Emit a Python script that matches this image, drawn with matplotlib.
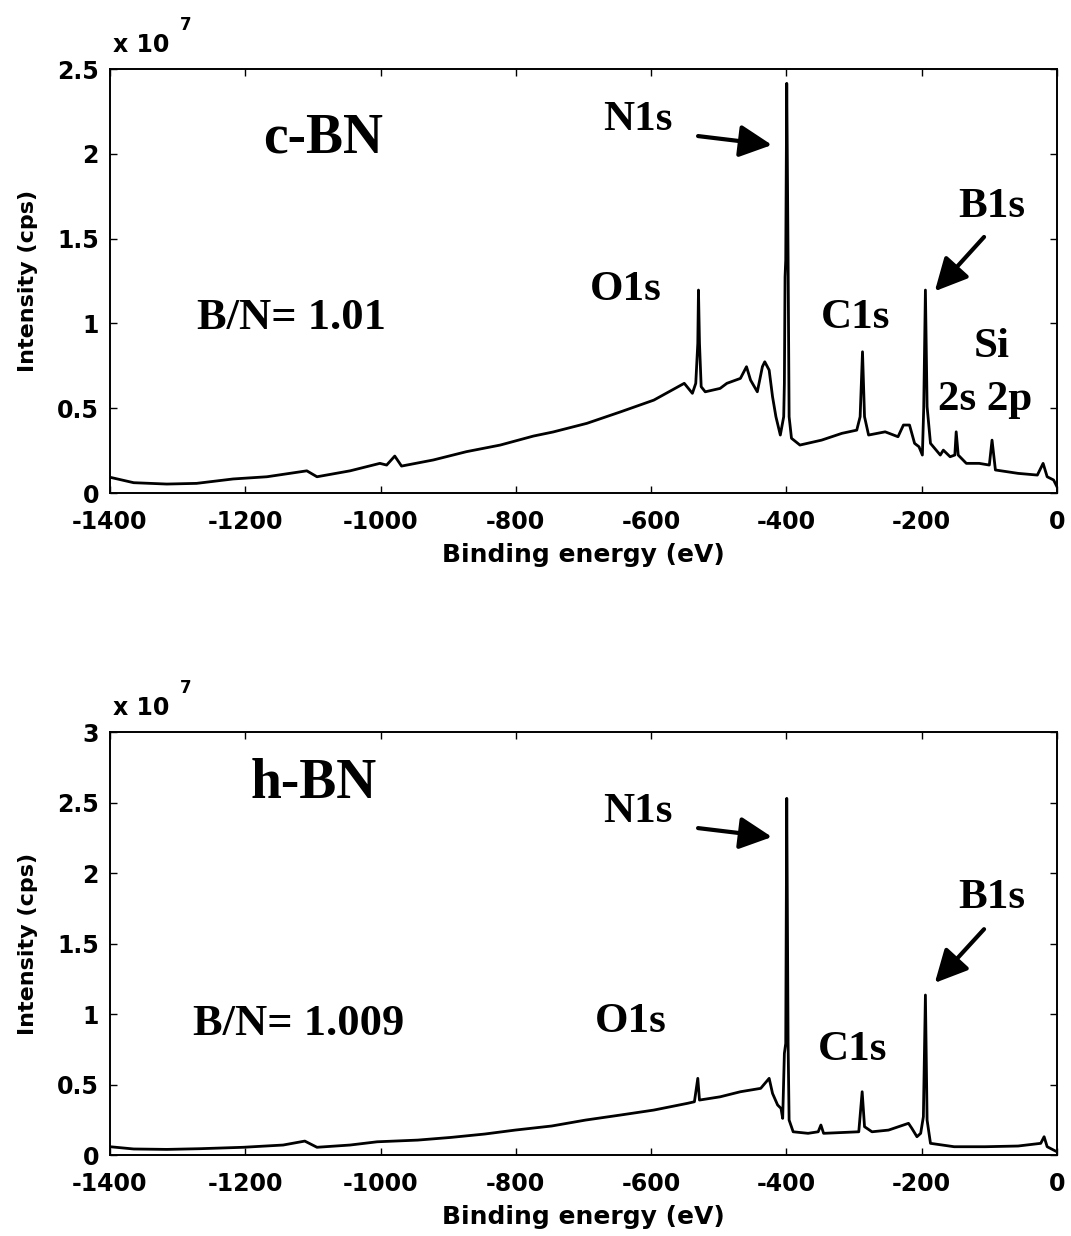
import numpy as np
import matplotlib
matplotlib.use("Agg")
import matplotlib.pyplot as plt
from matplotlib.ticker import FuncFormatter

plt.rcParams["axes.unicode_minus"] = False

# -----------------------------
# XPS survey spectra (intensity in units of 1e7 cps)
# -----------------------------
cbn_energy = [-1400, -1365, -1316, -1272, -1218, -1168, -1109, -1094, -1045, -1001,
              -991, -979, -969, -922, -873, -823, -774, -745, -695, -645,
              -596, -551, -539, -534, -531, -530, -528.5, -526, -520, -498,
              -488, -468, -459, -453, -443, -435.5, -432, -425.5, -420.5, -415.5,
              -409, -404, -403, -402, -401, -399.5, -397.5, -396, -392.5, -380,
              -348, -318, -296, -291, -287.5, -284.5, -278.5, -254, -235, -227,
              -218, -210.5, -204, -199, -197, -194.5, -192, -187, -172.5, -168,
              -158, -151, -149, -146, -134, -115, -100, -96, -91, -57.5,
              -29, -20.5, -14.5, -5, 0]
cbn_counts = [0.093, 0.061, 0.053, 0.057, 0.083, 0.096, 0.131, 0.096, 0.131, 0.175,
              0.165, 0.218, 0.159, 0.195, 0.244, 0.283, 0.336, 0.360, 0.411, 0.479,
              0.548, 0.647, 0.588, 0.647, 0.883, 1.197, 0.883, 0.627, 0.597, 0.617,
              0.647, 0.676, 0.745, 0.666, 0.597, 0.745, 0.774, 0.725, 0.568, 0.450,
              0.342, 0.450, 0.647, 1.275, 1.374, 2.416, 1.374, 0.450, 0.323, 0.283,
              0.312, 0.352, 0.371, 0.450, 0.833, 0.450, 0.342, 0.361, 0.332, 0.401,
              0.401, 0.293, 0.273, 0.224, 0.499, 1.197, 0.509, 0.293, 0.224, 0.253,
              0.214, 0.224, 0.361, 0.224, 0.175, 0.175, 0.165, 0.312, 0.136, 0.116,
              0.106, 0.175, 0.096, 0.077, 0.037]

hbn_energy = [-1400, -1365, -1316, -1267, -1203, -1144, -1112, -1094, -1045, -1005,
              -945, -896, -846, -801, -747, -697, -645, -596, -546, -536,
              -531, -528.5, -498, -468, -438, -425.5, -420.5, -413, -408, -405.5,
              -403, -401, -399.5, -397.5, -396, -390, -368, -353, -349, -345,
              -293, -288, -284.5, -273.5, -249, -219.5, -214.5, -207, -201.5, -197.5,
              -194.5, -192, -187, -152, -106, -57.5, -24, -19, -14.5, 0]
hbn_counts = [0.059, 0.043, 0.040, 0.045, 0.055, 0.071, 0.099, 0.055, 0.071, 0.094,
              0.106, 0.125, 0.149, 0.177, 0.206, 0.248, 0.284, 0.319, 0.367, 0.378,
              0.544, 0.390, 0.413, 0.449, 0.473, 0.544, 0.437, 0.355, 0.331, 0.260,
              0.721, 0.792, 2.530, 0.792, 0.248, 0.165, 0.154, 0.165, 0.213, 0.154,
              0.165, 0.449, 0.201, 0.165, 0.177, 0.225, 0.189, 0.130, 0.154, 0.272,
              1.135, 0.248, 0.083, 0.059, 0.059, 0.064, 0.083, 0.130, 0.059, 0.023]

x_ticks = [-1400, -1200, -1000, -800, -600, -400, -200, 0]
cbn_yticks = [0, 0.5, 1, 1.5, 2, 2.5]
hbn_yticks = [0, 0.5, 1, 1.5, 2, 2.5, 3]

SANS = "DejaVu Sans"
SERIF = "Liberation Serif"


def style_axes(ax, yticks):
    ax.set_xlim(-1400, 0)
    ax.set_ylim(yticks[0], yticks[-1])
    ax.set_xticks(x_ticks)
    ax.set_yticks(yticks)
    ax.yaxis.set_major_formatter(FuncFormatter(lambda v, p: "%g" % v))
    ax.tick_params(direction="in", length=5, width=1, top=True, right=True,
                   labelsize=17)
    ax.tick_params(axis="x", pad=12)
    ax.tick_params(axis="y", pad=8)
    for lab in ax.get_xticklabels() + ax.get_yticklabels():
        lab.set_fontfamily(SANS)
        lab.set_fontweight("bold")
    for sp in ax.spines.values():
        sp.set_linewidth(1.4)
    ax.set_xlabel("Binding energy (eV)", fontsize=18, fontweight="bold",
                  family=SANS, labelpad=7)
    ax.set_ylabel("Intensity (cps)", fontsize=16, fontweight="bold",
                  family=SANS, labelpad=14)
    # exponent label in the top-left corner
    ax.text(0.003, 1.040, "x 10", transform=ax.transAxes, fontsize=17,
            fontweight="bold", family=SANS, va="baseline", ha="left")
    ax.text(0.074, 1.092, "7", transform=ax.transAxes, fontsize=12,
            fontweight="bold", family=SANS, va="baseline", ha="left")


def label(ax, x, y, s, size=31):
    ax.text(x, y, s, transform=ax.transAxes, fontsize=size, family=SERIF,
            fontweight="bold", va="baseline", ha="left")


def arrow(ax, tail, head):
    ax.annotate("", xy=head, xytext=tail, xycoords="axes fraction",
                textcoords="axes fraction",
                arrowprops=dict(arrowstyle="-|>,head_length=0.9,head_width=0.45",
                                lw=3, color="black", mutation_scale=22,
                                shrinkA=0, shrinkB=0))


fig = plt.figure(figsize=(10.71, 12.36), dpi=100)
ax1 = fig.add_axes([0.1027, 0.6011, 0.8842, 0.3430])
ax2 = fig.add_axes([0.1027, 0.0655, 0.8842, 0.3422])

# c-BN
ax1.plot(cbn_energy, cbn_counts, color="black", lw=2)
style_axes(ax1, cbn_yticks)
label(ax1, 0.1616, 0.804, "c-BN", size=40)
label(ax1, 0.092, 0.387, "B/N= 1.01", size=32)
label(ax1, 0.5206, 0.856, "N1s")
label(ax1, 0.507, 0.455, "O1s")
label(ax1, 0.751, 0.389, "C1s")
label(ax1, 0.8955, 0.651, "B1s")
label(ax1, 0.912, 0.321, "Si")
label(ax1, 0.874, 0.196, "2s 2p")
arrow(ax1, (0.621, 0.842), (0.699, 0.821))
arrow(ax1, (0.923, 0.604), (0.871, 0.476))

# h-BN
ax2.plot(hbn_energy, hbn_counts, color="black", lw=2)
style_axes(ax2, hbn_yticks)
label(ax2, 0.148, 0.844, "h-BN", size=40)
label(ax2, 0.0876, 0.284, "B/N= 1.009", size=32)
label(ax2, 0.5206, 0.787, "N1s")
label(ax2, 0.8955, 0.584, "B1s")
label(ax2, 0.512, 0.291, "O1s")
label(ax2, 0.748, 0.225, "C1s")
arrow(ax2, (0.621, 0.773), (0.699, 0.752))
arrow(ax2, (0.923, 0.534), (0.871, 0.407))

fig.savefig("out.png", dpi=100)
